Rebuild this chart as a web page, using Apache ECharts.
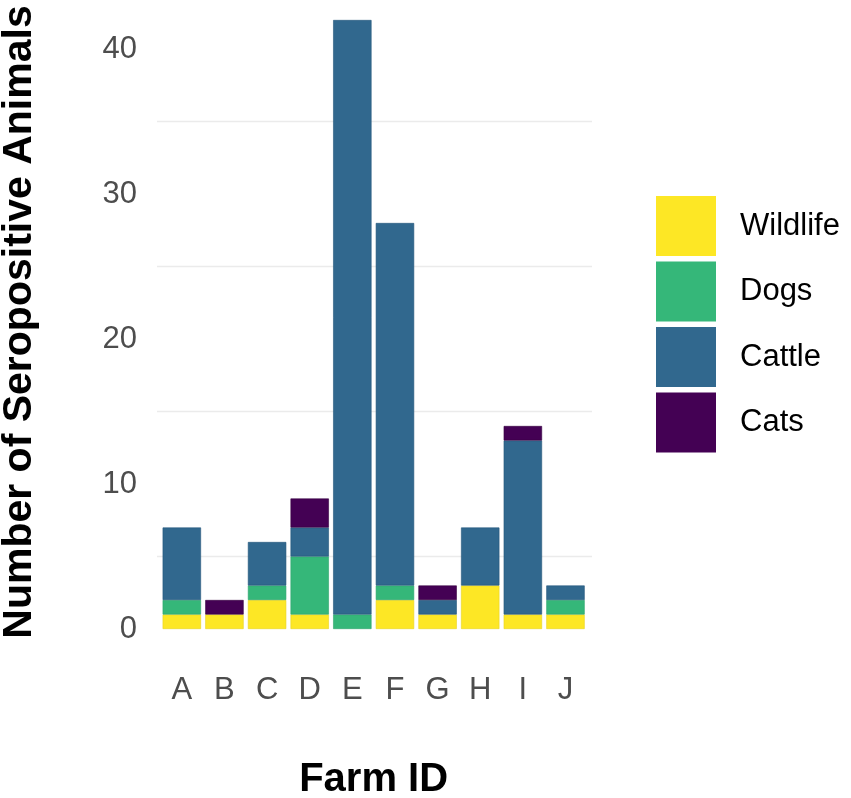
<!DOCTYPE html>
<html>
<head>
<meta charset="utf-8">
<script src="https://cdn.jsdelivr.net/npm/echarts@6/dist/echarts.min.js"></script>
<style>
html,body{margin:0;padding:0;background:#fff;}
#chart{width:851px;height:798px;}
</style>
</head>
<body>
<div id="chart"></div>
<script>
const farms = ['A','B','C','D','E','F','G','H','I','J'];
const wildlife = [1,1,2,1,0,2,1,3,1,1];
const dogs     = [1,0,1,4,1,1,0,0,0,1];
const cattle   = [5,0,3,2,41,25,1,4,12,1];
const cats     = [0,1,0,2,0,0,1,0,1,0];
const yTicks = [0,10,20,30,40];

const FONT = '"Liberation Sans", Arial, sans-serif';
const colors = {Wildlife:'#FDE725', Dogs:'#35B779', Cattle:'#31688E', Cats:'#440154'};
const borders = {Wildlife:'#E8D420', Dogs:'#2EA56C', Cattle:'#23557A', Cats:'#35003F'};
const T = 'rgba(0,0,0,0)', G = '#EBEBEB';

function mk(name, arr){
  return {
    name: name, type:'bar', stack:'total', xAxisIndex:1, yAxisIndex:1,
    barWidth:'90%',
    itemStyle:{color:colors[name], borderColor:borders[name], borderWidth:0.6},
    emphasis:{disabled:true},
    data: arr.map(v => v === 0 ? null : v)
  };
}

const chart = echarts.init(document.getElementById('chart'), null, {renderer:'canvas'});
chart.setOption({
  animation:false,
  backgroundColor:'#ffffff',
  textStyle:{fontFamily:FONT},
  grid:[
    {left:157, right:259, top:5.5, bottom:169, outerBoundsMode:'none', containLabel:false},
    {left:160.5, right:264.2, top:5.5, bottom:169, outerBoundsMode:'none', containLabel:false}
  ],
  graphic:[{
    type:'text', x:20, y:322, rotation:Math.PI/2,
    style:{text:'Number of Seropositive Animals', font:'bold 41px ' + FONT, fill:'#000',
           textAlign:'center', textVerticalAlign:'middle'}
  }],
  legend:{
    data:['Wildlife','Dogs','Cattle','Cats'],
    orient:'vertical', left:656, top:196, padding:0,
    itemWidth:60, itemHeight:60, itemGap:5.5,
    icon:'rect', selectedMode:false,
    itemStyle:{borderWidth:0},
    textStyle:{fontSize:31, color:'#000', fontFamily:FONT, padding:[0,0,0,19]}
  },
  xAxis:[
    {type:'value', gridIndex:0, min:0, max:1, show:false},
    {type:'category', gridIndex:1, data:farms,
     axisLine:{show:false}, axisTick:{show:false},
     axisLabel:{fontSize:31, color:'#4D4D4D', margin:46, fontFamily:FONT},
     name:'Farm ID', nameLocation:'middle', nameGap:131,
     nameTextStyle:{fontSize:40, fontWeight:'bold', color:'#000', fontFamily:FONT}}
  ],
  yAxis:[
    {type:'value', gridIndex:0, min:0, max:43, interval:5,
     axisLine:{show:false}, axisTick:{show:false},
     axisLabel:{fontSize:31, color:'#4D4D4D', margin:20, fontFamily:FONT,
       formatter: v => yTicks.indexOf(v) >= 0 ? String(v) : ''},
     splitLine:{show:true, lineStyle:{color:[T,G,T,G,T,G,T,G,T,T], width:1.3}}},
    {type:'value', gridIndex:1, min:0, max:43, show:false, splitLine:{show:false}}
  ],
  series:[
    mk('Wildlife', wildlife),
    mk('Dogs', dogs),
    mk('Cattle', cattle),
    mk('Cats', cats)
  ]
});
</script>
</body>
</html>
